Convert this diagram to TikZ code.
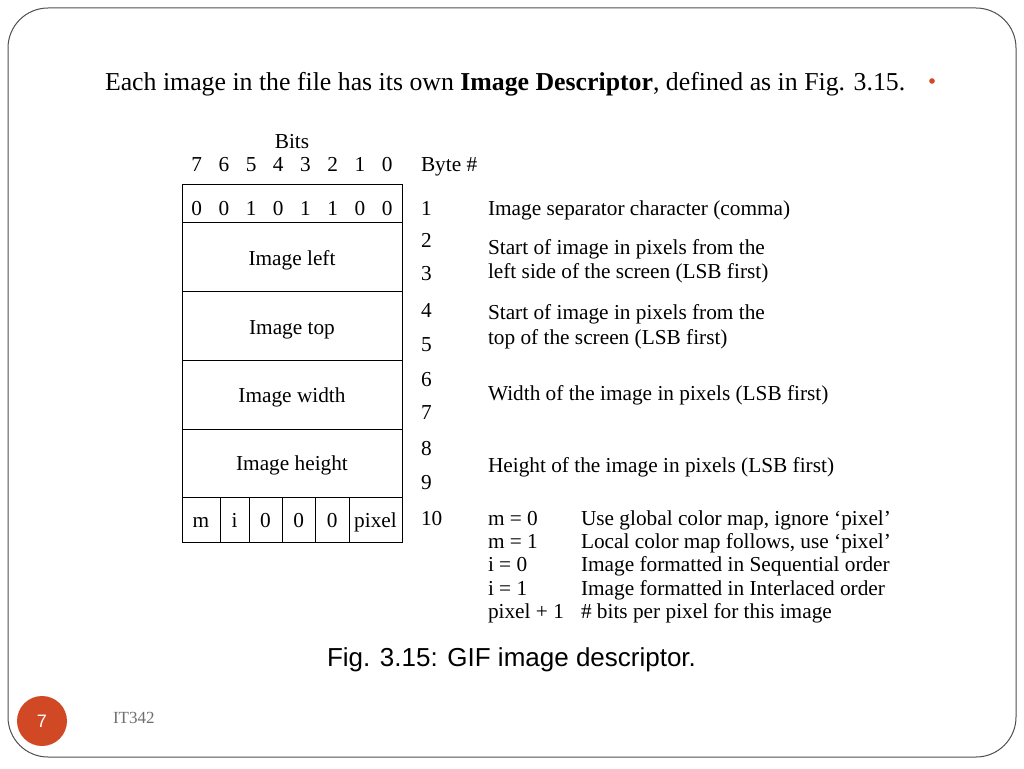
\documentclass[tikz,border=0pt]{standalone}
\usepackage{fontspec}
\setmainfont{Liberation Serif}
\setsansfont{Liberation Sans}
\definecolor{accent}{RGB}{209,72,36}
\definecolor{framegray}{RGB}{80,80,80}
\definecolor{footgray}{RGB}{110,110,110}
\begin{document}
\begin{tikzpicture}[x=1pt,y=-1pt,
  every node/.style={inner sep=0pt,outer sep=0pt},
  tb/.style={font=\fontsize{21.3}{25}\selectfont,anchor=base},
  tbl/.style={font=\fontsize{21.3}{25}\selectfont,anchor=base west},
  cellline/.style={draw=black,line width=0.8pt},
  head/.style={font=\fontsize{25.8}{30}\selectfont,anchor=base west}]
\useasboundingbox (0,0) rectangle (1024,768);
\fill[white] (0,0) rectangle (1024,768);
% slide frame
\draw[framegray,line width=1pt,rounded corners=40pt] (8,8) rectangle (1016,757);
% header
\node[head] (hdr) at (105,90) {Each image in the file has its own \textbf{Image Descriptor}, defined as in Fig. 3.15.};
\fill[accent] (932,81) circle (2.8pt);
% table header
\node[tb] (bits) at (292,148) {Bits};
\foreach \d [count=\i from 0] in {7,6,5,4,3,2,1,0} {
  \node[tb] (h\i) at ({196.7+27.2*\i},171) {\d};
}
\node[tbl] (byte) at (421,171) {Byte \#};
% table boxes
\draw[cellline] (182.5,184) rectangle (402.5,542);
\foreach \yy in {222.5,291.5,360.5,429.5,497.5} {
  \draw[cellline] (182.5,\yy) -- (402.5,\yy);
}
\foreach \xx in {220,249,282,315.5,349} {
  \draw[cellline] (\xx,497.5) -- (\xx,542);
}
% row 1 bits
\foreach \d [count=\i from 0] in {0,0,1,0,1,1,0,0} {
  \node[tb] (r\i) at ({196.7+27.2*\i},215) {\d};
}
\node[tb] (ileft) at (292,265) {Image left};
\node[tb] (itop) at (292,334) {Image top};
\node[tb] (iwidth) at (292,402) {Image width};
\node[tb] (iheight) at (292,470) {Image height};
\node[tb] (cm) at (201,527) {m};
\node[tb] (ci) at (234.5,527) {i};
\node[tb] (c0a) at (265.5,527) {0};
\node[tb] (c0b) at (298.7,527) {0};
\node[tb] (c0c) at (332.2,527) {0};
\node[tb] (cpix) at (375.5,527) {pixel};
% byte numbers
\node[tbl] (b1) at (421,215) {1};
\node[tbl] (b2) at (421,247) {2};
\node[tbl] (b3) at (421,280) {3};
\node[tbl] (b4) at (421,317) {4};
\node[tbl] (b5) at (421,351) {5};
\node[tbl] (b6) at (421,386) {6};
\node[tbl] (b7) at (421,419) {7};
\node[tbl] (b8) at (421,455) {8};
\node[tbl] (b9) at (421,489) {9};
\node[tbl] (b10) at (421,525) {10};
% descriptions
\node[tbl] (d1) at (488,215) {Image separator character (comma)};
\node[tbl] (d2a) at (488,254) {Start of image in pixels from the};
\node[tbl] (d2b) at (488,278) {left side of the screen (LSB first)};
\node[tbl] (d4a) at (488,319) {Start of image in pixels from the};
\node[tbl] (d4b) at (488,344) {top of the screen (LSB first)};
\node[tbl] (d6) at (488,400) {Width of the image in pixels (LSB first)};
\node[tbl] (d8) at (488,472) {Height of the image in pixels (LSB first)};
\node[tbl] (k1) at (488,525) {m = 0};
\node[tbl] (k2) at (488,548) {m = 1};
\node[tbl] (k3) at (488,571) {i = 0};
\node[tbl] (k4) at (488,595) {i = 1};
\node[tbl] (k5) at (488,618) {pixel + 1};
\node[tbl] (e1) at (581,525) {Use global color map, ignore ‘pixel’};
\node[tbl] (e2) at (581,548) {Local color map follows, use ‘pixel’};
\node[tbl] (e3) at (581,571) {Image formatted in Sequential order};
\node[tbl] (e4) at (581,595) {Image formatted in Interlaced order};
\node[tbl] (e5) at (581,618) {\# bits per pixel for this image};
% caption
\node[font=\sffamily\fontsize{26}{30}\selectfont,anchor=base west] (cap) at (327,666) {Fig. 3.15: GIF image descriptor.};
% footer
\node[circle,fill=accent,minimum size=50pt,text=white,font=\sffamily\fontsize{18}{20}\selectfont] (pg) at (42,721) {7};
\node[font=\fontsize{17}{19}\selectfont,text=footgray,anchor=base west] (foot) at (113,723) {IT342};
\end{tikzpicture}
\end{document}
